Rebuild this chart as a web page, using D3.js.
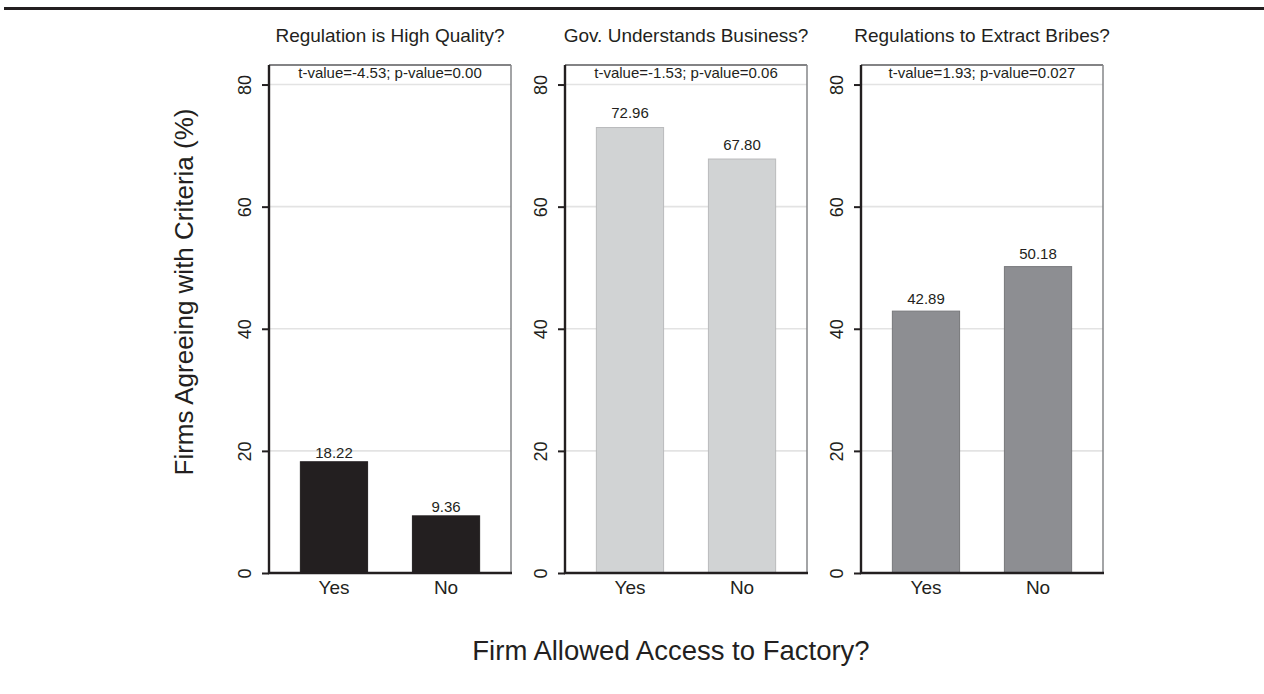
<!DOCTYPE html>
<html>
<head>
<meta charset="utf-8">
<script src="https://cdn.jsdelivr.net/npm/d3@7"></script>
<style>
  html, body { margin: 0; padding: 0; background: #fff; }
  svg { display: block; font-family: "Liberation Sans", Arial, Helvetica, sans-serif; }
</style>
</head>
<body>
<svg id="chart" width="1264" height="694"></svg>
<script>
// ---- data ----
const panelTitles = ["Regulation is High Quality?", "Gov. Understands Business?", "Regulations to Extract Bribes?"];
const categories = ["Yes", "No"];
const regulationQuality = [18.22, 9.36];
const govUnderstands = [72.96, 67.80];
const extractBribes = [42.89, 50.18];
const testLabels = ["t-value=-4.53; p-value=0.00", "t-value=-1.53; p-value=0.06", "t-value=1.93; p-value=0.027"];
const yTicks = [0, 20, 40, 60, 80];
const yDomainMax = 83.2;
const yTitle = "Firms Agreeing with Criteria (%)";
const xTitle = "Firm Allowed Access to Factory?";

(function () {
const seriesValues = [regulationQuality, govUnderstands, extractBribes];
const fills = ["#231f20", "#d1d3d4", "#8d8e92"];
const strokes = ["#231f20", "#b9babc", "#77787b"];
const labelGap = [4, 9.5, 7.5];
const ink = "#231f20";

const svg = d3.select("#chart");

// top rule
svg.append("line").attr("x1", 4).attr("x2", 1264).attr("y1", 8.5).attr("y2", 8.5)
  .attr("stroke", ink).attr("stroke-width", 3);

const panelW = 242, plotTop = 65, plotBottom = 573;
const panelLeft = d3.scaleLinear().domain([0, 1]).range([269, 565]);

const y = d3.scaleLinear().domain([0, yDomainMax]).range([plotBottom, plotTop]);
const x = d3.scaleBand().domain(categories).range([0, panelW]).paddingInner(0.4).paddingOuter(0.28);

seriesValues.forEach((vals, i) => {
  const g = svg.append("g").attr("transform", `translate(${panelLeft(i)},0)`);

  // gridlines
  g.selectAll("line.grid").data(yTicks.filter(t => t > 0)).enter().append("line")
    .attr("class", "grid")
    .attr("x1", 0).attr("x2", panelW)
    .attr("y1", d => y(d)).attr("y2", d => y(d))
    .attr("stroke", "#e3e3e3").attr("stroke-width", 1.6);

  // bars
  g.selectAll("rect.bar").data(vals).enter().append("rect")
    .attr("class", "bar")
    .attr("x", (d, j) => x(categories[j]))
    .attr("width", x.bandwidth())
    .attr("y", d => y(d))
    .attr("height", d => y(0) - y(d))
    .attr("fill", fills[i])
    .attr("stroke", strokes[i]).attr("stroke-width", 1);

  // value labels
  g.selectAll("text.val").data(vals).enter().append("text")
    .attr("class", "val")
    .attr("x", (d, j) => x(categories[j]) + x.bandwidth() / 2)
    .attr("y", d => y(d) - labelGap[i])
    .attr("text-anchor", "middle")
    .attr("font-size", 15).attr("fill", ink)
    .text(d => d.toFixed(2));

  // frame top & right
  g.append("line").attr("x1", 0).attr("x2", panelW).attr("y1", plotTop).attr("y2", plotTop)
    .attr("stroke", "#5a5a5c").attr("stroke-width", 1.5);
  g.append("line").attr("x1", panelW).attr("x2", panelW).attr("y1", plotTop).attr("y2", plotBottom)
    .attr("stroke", "#858688").attr("stroke-width", 1.5);

  // y axis
  const yAxis = d3.axisLeft(y).tickValues(yTicks).tickSize(7).tickPadding(11).tickFormat(d3.format("d"));
  const ya = g.append("g").call(yAxis);
  ya.select(".domain").remove();
  ya.selectAll(".tick line").attr("stroke", ink).attr("stroke-width", 2);
  ya.selectAll(".tick text")
    .attr("font-size", 18).attr("font-family", null).attr("fill", ink)
    .attr("x", null).attr("dy", null)
    .attr("text-anchor", "middle")
    .attr("transform", "translate(-18,0) rotate(-90)");
  g.append("line").attr("x1", 0).attr("x2", 0).attr("y1", plotTop).attr("y2", plotBottom + 1)
    .attr("stroke", ink).attr("stroke-width", 2.4);

  // x axis
  const xAxis = d3.axisBottom(x).tickSize(0).tickPadding(8);
  const xa = g.append("g").attr("transform", `translate(0,${plotBottom})`).call(xAxis);
  xa.select(".domain").remove();
  xa.selectAll(".tick text").attr("font-size", 19).attr("font-family", null).attr("fill", ink)
    .attr("dy", null).attr("y", 21);
  g.append("line").attr("x1", -1).attr("x2", panelW + 1).attr("y1", plotBottom).attr("y2", plotBottom)
    .attr("stroke", ink).attr("stroke-width", 2.4);

  // test stats
  g.append("text").attr("x", panelW / 2).attr("y", 78)
    .attr("text-anchor", "middle").attr("font-size", 15).attr("fill", ink)
    .text(testLabels[i]);

  // panel title
  g.append("text").attr("x", panelW / 2).attr("y", 42)
    .attr("text-anchor", "middle").attr("font-size", 19).attr("fill", ink)
    .text(panelTitles[i]);
});

// axis titles
svg.append("text").attr("transform", "translate(193,292) rotate(-90)")
  .attr("text-anchor", "middle").attr("font-size", 26).attr("fill", ink).text(yTitle);
svg.append("text").attr("x", 671).attr("y", 660)
  .attr("text-anchor", "middle").attr("font-size", 27.5).attr("fill", ink).text(xTitle);
})();
</script>
</body>
</html>
